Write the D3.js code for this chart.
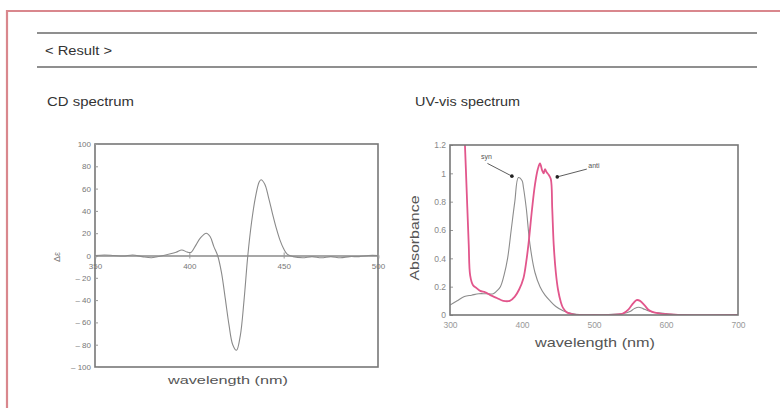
<!DOCTYPE html>
<html><head><meta charset="utf-8">
<script src="https://cdn.jsdelivr.net/npm/d3@7"></script>
<style>
html,body{margin:0;padding:0;background:#fff;}
svg{display:block;font-family:"Liberation Sans",Arial,sans-serif;}
</style></head>
<body>
<svg id="c" width="780" height="408"></svg>
<script>
// ---- data ----
const cdWavelength = [350,355,360,365,370,375,380,385,390,393,396,399,401,403,406,409,411,413,415,417,419,421,423,425,427,429,431,433,435,437,438,440,442,444,446,448,450,452,455,460,465,470,475,480,485,490,495,500];
const cdValues     = [0,0.5,0,-0.5,0.5,-1,-2,-0.5,1.5,3,5,3,3,8,16,20,17,8,0,-15,-38,-62,-80,-85,-72,-40,0,30,52,66,68,64,52,38,25,14,6,1,-1,-2,-1,-2,-1,-2,-1,-1,0,0];
const cdXTicks = [350,400,450,500];
const cdYTicks = [100,80,60,40,20,0,-20,-40,-60,-80,-100];

const uvSynWavelength = [300,310,320,330,340,350,360,365,370,375,380,385,390,395,400,402,406,411,418,425,432,439,447,457,465,471,480,500,520,540,550,556,562,568,575,582,590,600,610,620,700];
const uvSynValues     = [0.07,0.1,0.13,0.14,0.15,0.15,0.15,0.17,0.2,0.28,0.4,0.6,0.8,0.97,0.95,0.9,0.75,0.5,0.3,0.2,0.14,0.1,0.06,0.03,0.015,0.008,0.003,0.002,0.004,0.01,0.025,0.045,0.055,0.045,0.03,0.02,0.015,0.01,0.005,0.0,0.0];
const uvAntiWavelength = [318,320,323,326,328,332,337,342,349,356,365,374,383,390,396,402,406,409,414,418,422,425,428,430,432,434,437,440,442,444,447,450,454,457,462,467,471,480,500,520,540,548,554,559,564,570,576,582,590,600,610,620,700];
const uvAntiValues     = [1.5,1.3,0.9,0.5,0.28,0.21,0.19,0.17,0.16,0.14,0.12,0.1,0.1,0.13,0.18,0.26,0.38,0.5,0.75,0.92,1.03,1.07,1.02,1.0,1.03,1.01,0.99,0.96,0.75,0.5,0.3,0.18,0.09,0.05,0.02,0.01,0.005,0.0,0.0,0.0,0.01,0.04,0.08,0.105,0.1,0.07,0.035,0.02,0.012,0.006,0.003,0.0,0.0];
const uvXTicks = [300,400,500,600,700];
const uvYTicks = [0,0.2,0.4,0.6,0.8,1,1.2];

const titles = ["< Result >","CD spectrum","UV-vis spectrum"];

// ---- drawing ----
const svg = d3.select("#c");
const pink = "#e2568c";

function stretched(sel, len){ return sel.attr("textLength",len).attr("lengthAdjust","spacingAndGlyphs"); }

// outer border
svg.append("path").attr("d","M7,408 L7,11 L780,11").attr("fill","none").attr("stroke","#d9878d").attr("stroke-width",2.2);
// header rules
[33,67].forEach(y=>svg.append("line").attr("x1",37).attr("x2",757).attr("y1",y).attr("y2",y).attr("stroke","#8f8f8f").attr("stroke-width",1.8));
stretched(svg.append("text").attr("x",45).attr("y",55).attr("font-size",13).attr("fill","#333").text(titles[0]),67);
stretched(svg.append("text").attr("x",47).attr("y",106).attr("font-size",13).attr("fill","#333").text(titles[1]),87);
stretched(svg.append("text").attr("x",415).attr("y",106).attr("font-size",13).attr("fill","#333").text(titles[2]),105);

// ---- CD chart ----
const cd = {l:95,r:378,t:144,b:367};
const cx = d3.scaleLinear().domain([350,500]).range([cd.l,cd.r]);
const cy = d3.scaleLinear().domain([-100,100]).range([cd.b,cd.t]);
const g1 = svg.append("g");
g1.append("rect").attr("x",cd.l).attr("y",cd.t).attr("width",cd.r-cd.l).attr("height",cd.b-cd.t).attr("fill","none").attr("stroke","#777").attr("stroke-width",1.6);
// y axis
const cdYAxis = d3.axisLeft(cy).tickValues(cdYTicks).tickSize(-3).tickPadding(4).tickFormat(d=>d<0?"\u2013 "+Math.abs(d):d);
const gy1 = g1.append("g").attr("transform",`translate(${cd.l},0)`).call(cdYAxis);
gy1.select(".domain").remove();
gy1.selectAll("text").attr("font-size",8).attr("fill","#777");
gy1.selectAll("line").attr("stroke","#999");
// zero x axis
const cdXAxis = d3.axisBottom(cx).tickValues(cdXTicks).tickSize(3).tickPadding(5);
const gx1 = g1.append("g").attr("transform",`translate(0,${cy(0)})`).call(cdXAxis);
gx1.select(".domain").attr("stroke","#8a8a8a").attr("stroke-width",1.6);
gx1.selectAll("text").attr("font-size",8).attr("fill","#777");
gx1.selectAll("line").attr("stroke","#999").attr("y1",-3);
// curve
g1.append("path").datum(cdWavelength.map((w,i)=>[w,cdValues[i]]))
  .attr("d",d3.line().x(d=>cx(d[0])).y(d=>cy(d[1])).curve(d3.curveCatmullRom))
  .attr("fill","none").attr("stroke","#8a8a8a").attr("stroke-width",1.1);
g1.append("text").attr("transform",`translate(60,257) rotate(-90)`).attr("text-anchor","middle").attr("font-size",9).attr("fill","#777").text("\u0394\u03b5");
stretched(g1.append("text").attr("x",228).attr("y",384).attr("text-anchor","middle").attr("font-size",11).attr("fill","#555").text("wavelength (nm)"),120);

// ---- UV chart ----
const uv = {l:450,r:738,t:145,b:315};
const ux = d3.scaleLinear().domain([300,700]).range([uv.l,uv.r]);
const uy = d3.scaleLinear().domain([0,1.2]).range([uv.b,uv.t]);
const g2 = svg.append("g");
g2.append("clipPath").attr("id","uvclip").append("rect").attr("x",uv.l).attr("y",uv.t).attr("width",uv.r-uv.l).attr("height",uv.b-uv.t);
const gy2 = g2.append("g").attr("transform",`translate(${uv.l},0)`).call(d3.axisLeft(uy).tickValues(uvYTicks).tickSize(-3).tickPadding(4).tickFormat(d=>d));
gy2.select(".domain").remove();
gy2.selectAll("text").attr("font-size",8.5).attr("fill","#888");
gy2.selectAll("line").attr("stroke","#999");
const gx2 = g2.append("g").attr("transform",`translate(0,${uv.b})`).call(d3.axisBottom(ux).tickValues(uvXTicks).tickSize(0).tickPadding(7));
gx2.select(".domain").remove();
gx2.selectAll("text").attr("font-size",8.5).attr("fill","#999");
const line2 = d3.line().x(d=>ux(d[0])).y(d=>uy(d[1])).curve(d3.curveCatmullRom);
g2.append("path").datum(uvSynWavelength.map((w,i)=>[w,uvSynValues[i]])).attr("clip-path","url(#uvclip)")
  .attr("d",line2).attr("fill","none").attr("stroke","#8c8c8c").attr("stroke-width",1.1);
g2.append("path").datum(uvAntiWavelength.map((w,i)=>[w,uvAntiValues[i]])).attr("clip-path","url(#uvclip)")
  .attr("d",line2).attr("fill","none").attr("stroke",pink).attr("stroke-width",1.8);
g2.append("rect").attr("x",uv.l).attr("y",uv.t).attr("width",uv.r-uv.l).attr("height",uv.b-uv.t).attr("fill","none").attr("stroke","#777").attr("stroke-width",1.6);
// annotations
const ann = [{label:"syn",tx:343,ty:1.1,ax:352,ay:1.07,px:386,py:0.98,anchor:"start"},
             {label:"anti",tx:492,ty:1.04,ax:490,ay:1.03,px:449,py:0.975,anchor:"start"}];
ann.forEach(a=>{
  g2.append("line").attr("x1",ux(a.ax)).attr("y1",uy(a.ay)).attr("x2",ux(a.px)).attr("y2",uy(a.py)).attr("stroke","#333").attr("stroke-width",0.8);
  g2.append("circle").attr("cx",ux(a.px)).attr("cy",uy(a.py)).attr("r",1.8).attr("fill","#222");
  g2.append("text").attr("x",ux(a.tx)).attr("y",uy(a.ty)).attr("font-size",7).attr("fill","#555").attr("text-anchor",a.anchor).text(a.label);
});
stretched(g2.append("text").attr("transform",`translate(419,238) rotate(-90)`).attr("text-anchor","middle").attr("font-size",13).attr("fill","#555").text("Absorbance"),85);
stretched(g2.append("text").attr("x",595).attr("y",347).attr("text-anchor","middle").attr("font-size",13).attr("fill","#555").text("wavelength (nm)"),120);
</script>
</body></html>
